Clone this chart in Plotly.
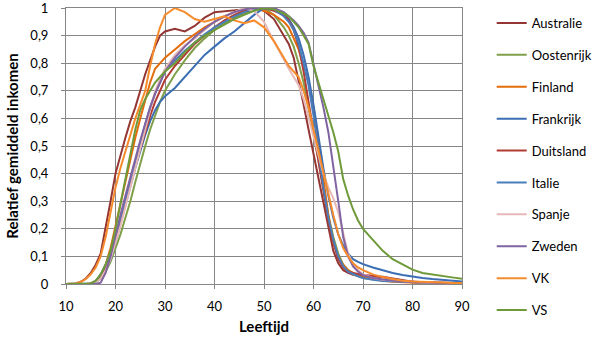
import plotly.graph_objects as go

# Age grid shared by every country series (years)
AGES = [10, 12, 13, 14, 15, 16, 17, 18, 19, 20,
        21, 22, 23, 24, 25, 26, 27, 28, 29, 30,
        32, 34, 36, 38, 40, 42, 44, 46, 48, 50, 52, 54,
        55, 56, 57, 58, 59, 60, 61, 62, 63, 64, 65, 66, 67, 68, 69, 70,
        72, 74, 76, 78, 80, 82, 84, 86, 88, 90]

# Axis ticks
X_TICKS = [10, 20, 30, 40, 50, 60, 70, 80, 90]
Y_TICKS = [0, 0.1, 0.2, 0.3, 0.4, 0.5, 0.6, 0.7, 0.8, 0.9, 1]

# Relative average income per age (1 = peak of each country)
australie = [0, 0.002, 0.008, 0.02, 0.04, 0.07, 0.11, 0.2, 0.3, 0.4,
             0.47, 0.53, 0.59, 0.64, 0.70, 0.76, 0.81, 0.86, 0.90, 0.915,
             0.925, 0.915, 0.935, 0.965, 0.985, 0.988, 0.99, 0.995, 1.0, 0.99, 0.96, 0.90,
             0.87, 0.82, 0.74, 0.65, 0.56, 0.47, 0.38, 0.29, 0.2, 0.12, 0.075, 0.05, 0.04, 0.033, 0.03, 0.028,
             0.028, 0.026, 0.02, 0.013, 0.008, 0.006, 0.005, 0.004, 0.003, 0.003]
oostenrijk = [0, 0, 0, 0, 0, 0.005, 0.02, 0.045, 0.08, 0.13,
              0.18, 0.24, 0.3, 0.37, 0.44, 0.5, 0.56, 0.61, 0.66, 0.7,
              0.76, 0.81, 0.855, 0.89, 0.92, 0.945, 0.965, 0.98, 0.995, 1.0, 0.975, 0.93,
              0.9, 0.86, 0.8, 0.73, 0.64, 0.55, 0.45, 0.35, 0.25, 0.17, 0.11, 0.07, 0.05, 0.035, 0.028, 0.022,
              0.017, 0.013, 0.01, 0.008, 0.006, 0.005, 0.004, 0.003, 0.003, 0.002]
finland = [0, 0, 0, 0, 0.003, 0.01, 0.03, 0.07, 0.13, 0.21,
           0.3, 0.38, 0.46, 0.53, 0.6, 0.67, 0.73, 0.78, 0.8, 0.82,
           0.85, 0.88, 0.905, 0.93, 0.95, 0.97, 0.985, 0.995, 1.0, 0.99, 0.975, 0.95,
           0.93, 0.89, 0.85, 0.79, 0.73, 0.64, 0.52, 0.38, 0.25, 0.15, 0.1, 0.07, 0.05, 0.04, 0.03, 0.025,
           0.018, 0.012, 0.008, 0.006, 0.004, 0.003, 0.002, 0.002, 0.001, 0.001]
frankrijk = [0, 0, 0, 0, 0.002, 0.01, 0.03, 0.055, 0.09, 0.15,
             0.22, 0.29, 0.36, 0.42, 0.48, 0.54, 0.59, 0.63, 0.66, 0.68,
             0.71, 0.75, 0.79, 0.83, 0.86, 0.89, 0.915, 0.945, 0.975, 1.0, 0.995, 0.98,
             0.96, 0.93, 0.89, 0.83, 0.75, 0.65, 0.53, 0.42, 0.32, 0.24, 0.18, 0.14, 0.11, 0.09, 0.08, 0.072,
             0.06, 0.05, 0.04, 0.033, 0.027, 0.022, 0.018, 0.015, 0.012, 0.009]
duitsland = [0, 0, 0, 0, 0, 0.005, 0.025, 0.06, 0.1, 0.16,
             0.23, 0.3, 0.37, 0.43, 0.49, 0.55, 0.61, 0.66, 0.7, 0.74,
             0.79, 0.83, 0.87, 0.9, 0.93, 0.955, 0.975, 0.99, 0.995, 1.0, 0.99, 0.975,
             0.955, 0.92, 0.86, 0.77, 0.66, 0.55, 0.44, 0.33, 0.23, 0.15, 0.09, 0.06, 0.045, 0.04, 0.036, 0.033,
             0.03, 0.025, 0.018, 0.012, 0.008, 0.006, 0.005, 0.004, 0.003, 0.003]
italie = [0, 0, 0, 0, 0, 0.01, 0.035, 0.07, 0.11, 0.17,
          0.24, 0.31, 0.38, 0.45, 0.52, 0.58, 0.64, 0.69, 0.73, 0.77,
          0.81, 0.845, 0.875, 0.905, 0.93, 0.95, 0.97, 0.985, 0.995, 1.0, 0.995, 0.97,
          0.95, 0.92, 0.87, 0.8, 0.72, 0.61, 0.48, 0.35, 0.24, 0.16, 0.1, 0.065, 0.045, 0.035, 0.028, 0.022,
          0.015, 0.011, 0.009, 0.007, 0.006, 0.005, 0.004, 0.004, 0.003, 0.003]
spanje = [0, 0, 0, 0, 0, 0.003, 0.02, 0.05, 0.09, 0.15,
          0.21, 0.28, 0.35, 0.42, 0.5, 0.57, 0.64, 0.7, 0.74, 0.78,
          0.83, 0.865, 0.89, 0.92, 0.95, 0.97, 0.985, 1.0, 0.99, 0.95, 0.88, 0.81,
          0.78, 0.75, 0.72, 0.67, 0.6, 0.53, 0.46, 0.4, 0.35, 0.31, 0.26, 0.18, 0.11, 0.07, 0.05, 0.035,
          0.022, 0.015, 0.012, 0.009, 0.007, 0.005, 0.004, 0.003, 0.003, 0.002]
zweden = [0, 0, 0, 0, 0, 0, 0.005, 0.04, 0.1, 0.18,
          0.25, 0.32, 0.39, 0.46, 0.52, 0.58, 0.64, 0.69, 0.73, 0.77,
          0.82, 0.86, 0.895, 0.925, 0.95, 0.97, 0.985, 0.995, 1.0, 1.0, 1.0, 0.985,
          0.97, 0.955, 0.935, 0.91, 0.875, 0.8, 0.72, 0.64, 0.55, 0.43, 0.3, 0.17, 0.1, 0.064, 0.045, 0.032,
          0.022, 0.016, 0.012, 0.009, 0.007, 0.005, 0.004, 0.003, 0.003, 0.002]
vk = [0, 0.002, 0.008, 0.018, 0.035, 0.06, 0.1, 0.17, 0.26, 0.35,
      0.42, 0.48, 0.54, 0.6, 0.65, 0.7, 0.79, 0.87, 0.93, 0.975,
      1.0, 0.985, 0.96, 0.95, 0.96, 0.97, 0.955, 0.945, 0.955, 0.93, 0.88, 0.82,
      0.79, 0.77, 0.75, 0.7, 0.64, 0.56, 0.48, 0.4, 0.32, 0.25, 0.18, 0.13, 0.1, 0.075, 0.06, 0.05,
      0.035, 0.025, 0.018, 0.012, 0.009, 0.007, 0.006, 0.005, 0.004, 0.004]
vs = [0, 0, 0, 0, 0.002, 0.012, 0.035, 0.07, 0.12, 0.2,
      0.29, 0.38, 0.47, 0.56, 0.63, 0.67, 0.7, 0.73, 0.75, 0.77,
      0.8, 0.84, 0.875, 0.9, 0.92, 0.94, 0.96, 0.975, 0.99, 1.0, 0.995, 0.98,
      0.97, 0.95, 0.93, 0.9, 0.87, 0.79, 0.73, 0.67, 0.61, 0.55, 0.48, 0.38, 0.32, 0.27, 0.23, 0.2,
      0.16, 0.12, 0.09, 0.07, 0.052, 0.04, 0.034, 0.028, 0.024, 0.019]

COUNTRIES = ["Australie", "Oostenrijk", "Finland", "Frankrijk", "Duitsland",
             "Italie", "Spanje", "Zweden", "VK", "VS"]
SERIES = [australie, oostenrijk, finland, frankrijk, duitsland,
          italie, spanje, zweden, vk, vs]
COLORS = ["#943634", "#7F9F48", "#E46C0A", "#3C6EB4", "#B23C34",
          "#4A7EBB", "#E6B9B8", "#8064A2", "#F68B2C", "#6E9A3A"]

FONT = "Lato"
GRID = "#868686"

fig = go.Figure()
for name, vals, col in zip(COUNTRIES, SERIES, COLORS):
    fig.add_trace(go.Scatter(
        x=AGES, y=vals, name=name, mode="lines",
        line=dict(color=col, width=2),
        legendgroup=name,
    ))

fig.update_layout(
    width=599, height=341,
    margin=dict(l=66, r=137, t=8, b=57, autoexpand=False),
    paper_bgcolor="white", plot_bgcolor="white",
    separators=",.",
    font=dict(family=FONT, size=13, color="#000000"),
    showlegend=True,
    legend=dict(
        x=1.075, xanchor="left", y=1.0, yanchor="top",
        traceorder="grouped", tracegroupgap=12,
        maxheight=340,
        font=dict(family=FONT, size=13, color="#000000"),
        itemwidth=30, borderwidth=0, bgcolor="rgba(0,0,0,0)",
    ),
    xaxis=dict(
        range=[10, 90], tickvals=X_TICKS,
        showgrid=True, gridcolor=GRID, gridwidth=1,
        showline=True, linecolor=GRID, linewidth=1, mirror=True,
        ticks="outside", ticklen=4, tickcolor=GRID,
        ticklabelstandoff=6, ticklabeloverflow="allow",
        zeroline=False,
        tickfont=dict(family=FONT, size=13, color="#000000"),
        title=dict(text="<b>Leeftijd</b>", standoff=8,
                   font=dict(family=FONT, size=15, color="#000000")),
    ),
    yaxis=dict(
        range=[0, 1], tickvals=Y_TICKS,
        showgrid=True, gridcolor=GRID, gridwidth=1,
        showline=True, linecolor=GRID, linewidth=1, mirror=True,
        ticks="outside", ticklen=4, tickcolor=GRID,
        ticklabelstandoff=10, ticklabeloverflow="allow",
        zeroline=False,
        tickfont=dict(family=FONT, size=13, color="#000000"),
        title=dict(text="<b>Relatief gemiddeld inkomen</b>", standoff=8,
                   font=dict(family=FONT, size=15, color="#000000")),
    ),
)

fig.write_html("out.html")
